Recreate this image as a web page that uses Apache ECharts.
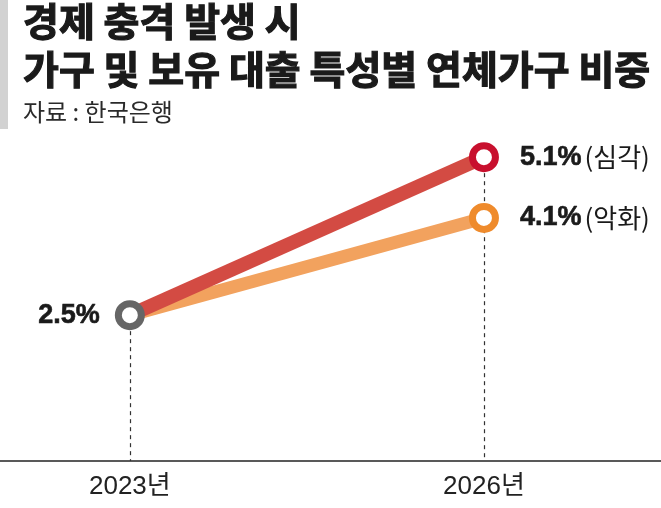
<!DOCTYPE html>
<html><head><meta charset="utf-8">
<script src="https://cdn.jsdelivr.net/npm/echarts@6/dist/echarts.min.js"></script>
<style>html,body{margin:0;padding:0;background:#fff}#c{width:661px;height:508px}</style>
</head><body><div id="c"></div>
<script>
const years = [2023, 2026];
const severe = [2.5, 5.1];
const worse = [2.5, 4.1];
const severeName = '심각';
const worseName = '악화';
const titleLines = ['경제 충격 발생 시', '가구 및 보유 대출 특성별 연체가구 비중'];
const sourceText = '자료 : 한국은행';

const chart = echarts.init(document.getElementById('c'));
const numFont = "'Liberation Sans', Arial, 'Noto Sans CJK KR', sans-serif";
const krFont = "'Noto Sans CJK KR', sans-serif";

function pts(vals) {
  return years.map((y, i) => i === 0 ? { value: [y, vals[i]], symbol: 'none' } : [y, vals[i]]);
}

chart.setOption({
  animation: false,
  backgroundColor: '#fff',
  graphic: [
    { type: 'rect', shape: { x: 0, y: 0, width: 8, height: 129 }, style: { fill: '#d2d2d2' } },
    { type: 'text', x: 23, y: 21, style: { text: titleLines[0], font: "bold 39px 'Noto Sans CJK KR', sans-serif",
        fill: '#1a1a1a', stroke: '#1a1a1a', lineWidth: 1.2, verticalAlign: 'middle' } },
    { type: 'text', x: 23, y: 69, style: { text: titleLines[1], font: "bold 39px 'Noto Sans CJK KR', sans-serif",
        fill: '#1a1a1a', stroke: '#1a1a1a', lineWidth: 1.2, verticalAlign: 'middle' } },
    { type: 'text', x: 23, y: 112, style: { text: sourceText, font: "24px 'Noto Sans CJK KR', sans-serif",
        fill: '#2a2a2a', verticalAlign: 'middle' } }
  ],
  grid: { left: 0, right: 0, top: 102.5, bottom: 47 },
  xAxis: {
    type: 'value', min: 2021.9, max: 2027.5,
    axisLine: { show: true, lineStyle: { color: '#222', width: 1.5 } },
    axisTick: { show: false },
    splitLine: { show: false },
    axisLabel: { customValues: years, formatter: v => v + '년', fontFamily: numFont, fontSize: 26, color: '#222', margin: 13 }
  },
  yAxis: { type: 'value', min: 0.1, max: 6, show: false },
  series: [
    {
      type: 'line', data: pts(worse), z: 3,
      lineStyle: { color: '#f2a25e', width: 13, cap: 'butt' },
      symbol: 'circle', symbolSize: 23,
      itemStyle: { color: '#fff', borderColor: '#ef8b2c', borderWidth: 7 },
      label: {
        show: true, position: 'right', distance: 21,
        formatter: p => p.dataIndex === 1 ? '{b|' + p.value[1].toFixed(1) + '%}{n|(' + worseName + ')}' : '',
        rich: {
          b: { fontFamily: numFont, fontWeight: 'bold', fontSize: 27, color: '#1a1a1a', textBorderColor: '#1a1a1a', textBorderWidth: 0.6 },
          n: { fontFamily: krFont, fontSize: 26, color: '#1a1a1a', padding: [0, 0, 0, 3] }
        }
      },
      markLine: {
        silent: true, symbol: 'none', z: 1,
        lineStyle: { color: '#333', type: [4, 4], width: 1.2 },
        label: { show: false },
        data: [
          [{ coord: [years[0], worse[0]] }, { coord: [years[0], 0.1] }],
          [{ coord: [years[1], severe[1]] }, { coord: [years[1], 0.1] }]
        ]
      }
    },
    {
      type: 'line', data: pts(severe), z: 4,
      lineStyle: { color: '#d34b43', width: 14, cap: 'butt' },
      symbol: 'circle', symbolSize: 23,
      itemStyle: { color: '#fff', borderColor: '#c8102e', borderWidth: 7 },
      label: {
        show: true, position: 'right', distance: 21,
        formatter: p => p.dataIndex === 1 ? '{b|' + p.value[1].toFixed(1) + '%}{n|(' + severeName + ')}' : '',
        rich: {
          b: { fontFamily: numFont, fontWeight: 'bold', fontSize: 27, color: '#1a1a1a', textBorderColor: '#1a1a1a', textBorderWidth: 0.6 },
          n: { fontFamily: krFont, fontSize: 26, color: '#1a1a1a', padding: [0, 0, 0, 3] }
        }
      }
    },
    {
      type: 'scatter', data: [[years[0], severe[0]]], z: 5,
      symbol: 'circle', symbolSize: 23,
      itemStyle: { color: '#fff', borderColor: '#666666', borderWidth: 7, opacity: 1 },
      label: {
        show: true, position: 'left', distance: 15,
        formatter: p => p.value[1].toFixed(1) + '%',
        fontFamily: numFont, fontWeight: 'bold', fontSize: 27, color: '#1a1a1a',
        textBorderColor: '#1a1a1a', textBorderWidth: 0.6
      }
    }
  ]
});
</script></body></html>
